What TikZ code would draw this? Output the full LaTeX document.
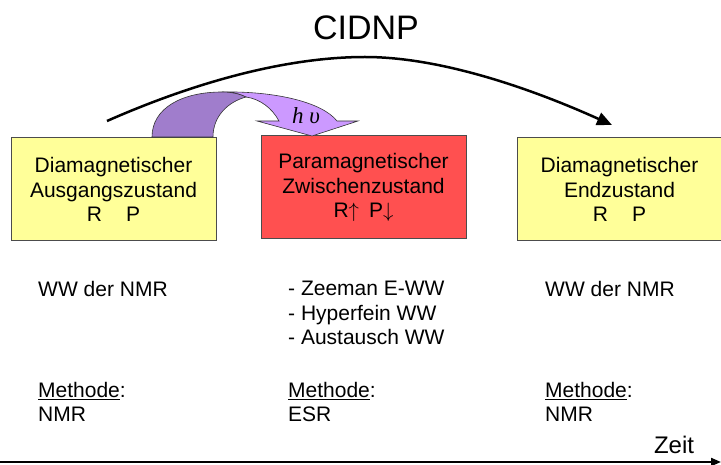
\documentclass[tikz,border=0pt]{standalone}
\usepackage{fontspec}
\setmainfont{Liberation Sans}
\newfontfamily\hvfont{Liberation Serif}
\usetikzlibrary{arrows.meta}

\tikzset{
  statebox/.style={draw=black!70, line width=1pt, minimum width=205pt,
    minimum height=103pt, align=center, inner sep=0pt,
    font=\fontsize{21}{24.5}\selectfont},
  coltext/.style={anchor=north west, align=left, inner sep=0pt,
    font=\fontsize{21}{24.5}\selectfont},
}

\begin{document}
\begin{tikzpicture}[x=1pt, y=-1pt]
    \definecolor{myyellow}{RGB}{255,255,153}
    \definecolor{myred}{RGB}{255,80,80}
    \definecolor{mylilac}{RGB}{204,153,255}
    \definecolor{mydarklilac}{RGB}{160,125,204}

    \useasboundingbox (0,0) rectangle (721,465);

    % the three states
    \node[statebox, fill=myyellow] (ausgang) at (113.5,189.5)
        {Diamagnetischer\\Ausgangszustand\\R\hspace{24pt}P};
    \node[statebox, fill=myred] (zwischen) at (363.5,187.5)
        {Paramagnetischer\\Zwischenzustand\\R$\uparrow$\hspace{10pt}P$\downarrow$};
    \node[statebox, fill=myyellow] (end) at (619.5,189.5)
        {Diamagnetischer\\Endzustand\\R\hspace{24pt}P};

    % CIDNP arc
    \node[font=\fontsize{34}{40}\selectfont, inner sep=0pt] (cidnp) at (366,28) {CIDNP};
    \coordinate (arcA) at (107,121);
    \coordinate (arcM) at (365,57);
    \coordinate (arcB) at (612,125);
    \draw[line width=2.5pt, -{Triangle[length=15pt, width=13pt]}]
        (arcA) .. controls (200,80) and (290,57) .. (arcM)
        .. controls (440,57) and (530,88) .. (arcB);

    % light band
    \fill[mylilac, draw=black!80, line width=0.6pt]
        (222,92) .. controls (275,91) and (322,102) .. (337,121)
        -- (358,121) -- (312,136) -- (257,121) -- (279,121)
        .. controls (272,108) and (260,99) .. (246,97)
        .. controls (240,94) and (232,92) .. cycle;
    % dark band
    \fill[mydarklilac, draw=black!80, line width=0.6pt]
        (152,137) .. controls (152,108) and (182,92) .. (222,92)
        .. controls (232,92) and (240,94) .. (246,97)
        .. controls (228,102) and (213,116) .. (213,137) -- cycle;
    \node[font=\hvfont\itshape\fontsize{23}{26}\selectfont, inner sep=0pt] (hv) at (306,116) {h υ};

    % what is seen in each state
    \node[coltext] (ww1) at (38,281) {WW der NMR};
    \node[coltext] (ww2) at (288,281) {- Zeeman E-WW\\- Hyperfein WW\\- Austausch WW};
    \node[coltext] (ww3) at (545,281) {WW der NMR};

    \node[coltext] (meth1) at (38,382) {\underline{Methode}:\\NMR};
    \node[coltext] (meth2) at (288,382) {\underline{Methode}:\\ESR};
    \node[coltext] (meth3) at (545,382) {\underline{Methode}:\\NMR};

    % time axis
    \node[font=\fontsize{24}{28}\selectfont, anchor=base, inner sep=0pt] (zeit) at (674,453) {Zeit};
    \coordinate (tA) at (0,462);
    \coordinate (tB) at (721,462);
    \draw[line width=2pt, -{Triangle[length=10pt, width=8pt]}] (tA) -- (tB);
\end{tikzpicture}
\end{document}
